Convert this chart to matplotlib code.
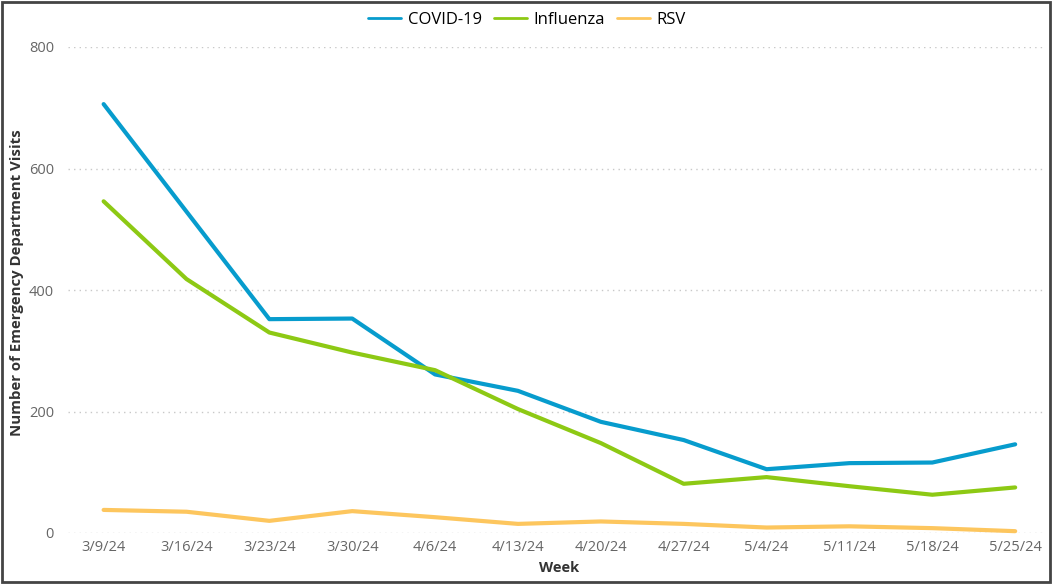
import matplotlib.pyplot as plt
from matplotlib.patches import Rectangle

weeks = ["3/9/24", "3/16/24", "3/23/24", "3/30/24", "4/6/24", "4/13/24",
         "4/20/24", "4/27/24", "5/4/24", "5/11/24", "5/18/24", "5/25/24"]
covid = [706, 529, 352, 353, 261, 234, 183, 153, 105, 115, 116, 146]
influenza = [546, 418, 330, 297, 268, 204, 148, 81, 92, 77, 63, 75]
rsv = [38, 35, 20, 36, 26, 15, 19, 15, 9, 11, 8, 3]

plt.rcParams['font.family'] = ['Open Sans', 'DejaVu Sans']

fig = plt.figure(figsize=(10.52, 5.84), dpi=100)
ax = fig.add_axes([68/1052, 1 - 533/584, (1045 - 68)/1052, (533 - 47)/584])

x = list(range(len(weeks)))
ax.plot(x, covid, color="#079ccd", lw=3, label="COVID-19", clip_on=False, solid_capstyle="round")
ax.plot(x, influenza, color="#8dc914", lw=3, label="Influenza", clip_on=False, solid_capstyle="round")
ax.plot(x, rsv, color="#fdc65e", lw=3, label="RSV", clip_on=False, solid_capstyle="round")

ax.set_xlim(-0.43, 11.36)
ax.set_ylim(0, 800)
ax.set_yticks([0, 200, 400, 600, 800])
ax.set_xticks(x)
ax.set_xticklabels(weeks)
ax.grid(axis="y", linestyle=(0, (1, 3)), color="#c8c8c8", lw=1)
ax.set_axisbelow(True)
for s in ax.spines.values():
    s.set_visible(False)
ax.tick_params(length=0, labelsize=10.5, labelcolor="#666666")
ax.tick_params(axis="y", pad=10)
ax.tick_params(axis="x", pad=5)

fig.text(17/1052, 1 - 283/584, "Number of Emergency Department Visits", rotation=90,
         ha="center", va="center", fontsize=10.8, fontweight="bold", color="#333333")
fig.text(559/1052, 1 - 568/584, "Week", ha="center", va="center",
         fontsize=10.5, fontweight="bold", color="#333333")

leg = fig.legend(loc="center", bbox_to_anchor=(527/1052, 1 - 20/584), ncol=3, frameon=False,
                 fontsize=12, handlelength=2.0, columnspacing=0.7, handletextpad=0.4)
for h in leg.get_lines():
    h.set_linewidth(2)

fig.patches.append(Rectangle((0.002, 0.003), 0.996, 0.994, transform=fig.transFigure,
                             fill=False, edgecolor="#444444", lw=2))

fig.savefig("out.png", dpi=100)
